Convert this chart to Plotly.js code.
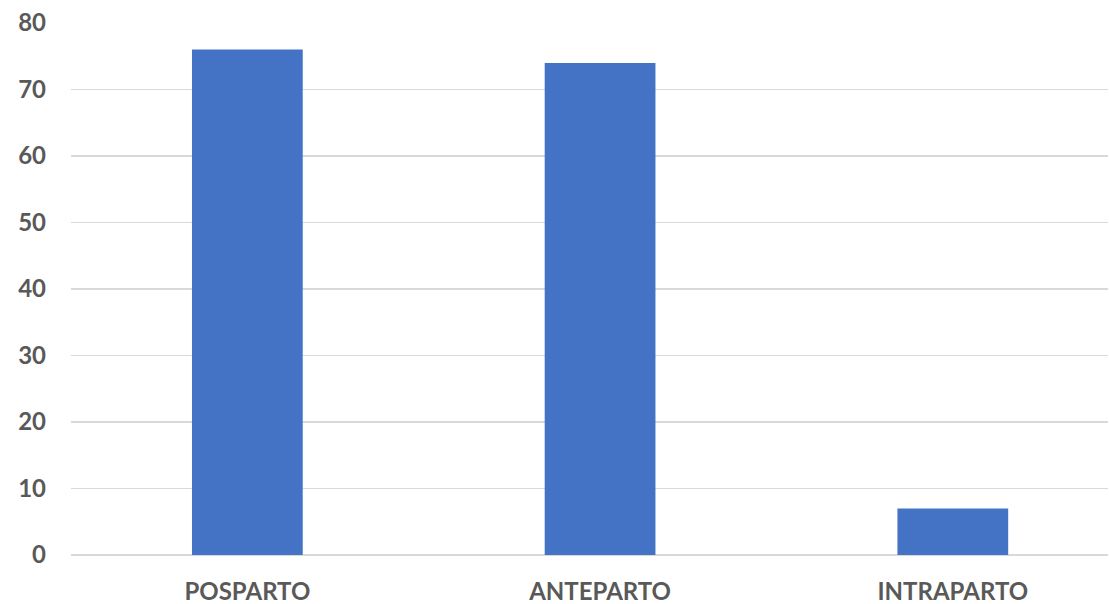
<!DOCTYPE html>
<html>
<head>
<meta charset="utf-8">
<script src="https://cdn.plot.ly/plotly-3.0.1.min.js"></script>
<style>html,body{margin:0;padding:0;background:#fff;}#chart{width:1109px;height:604px;}</style>
</head>
<body>
<div id="chart"></div>
<script>
const categories = ["POSPARTO", "ANTEPARTO", "INTRAPARTO"];
const values = [76, 74, 7];
const yTicks = [0, 10, 20, 30, 40, 50, 60, 70, 80];

const tickFont = {family: "Lato, 'Open Sans', sans-serif", size: 24, color: "#595959", weight: 700};

Plotly.newPlot("chart", [{
  type: "bar",
  x: categories,
  y: values,
  marker: {color: "#4472C4"},
  hoverinfo: "none"
}], {
  width: 1109,
  height: 604,
  margin: {l: 71, r: 1, t: 23, b: 49},
  paper_bgcolor: "#fff",
  plot_bgcolor: "#fff",
  bargap: 0.686,
  showlegend: false,
  xaxis: {
    range: [-0.5, 2.44],
    showgrid: false,
    zeroline: false,
    showline: false,
    ticks: "",
    tickfont: tickFont,
    ticklabelstandoff: 20
  },
  yaxis: {
    range: [0, 80],
    tickvals: yTicks,
    ticktext: yTicks.map(String),
    showgrid: true,
    gridcolor: "#d9d9d9",
    gridwidth: 1.5,
    zeroline: true,
    zerolinecolor: "#d9d9d9",
    zerolinewidth: 1.5,
    showline: false,
    ticks: "",
    tickfont: tickFont,
    ticklabelstandoff: 24
  }
}, {displayModeBar: false, staticPlot: true});
</script>
</body>
</html>
